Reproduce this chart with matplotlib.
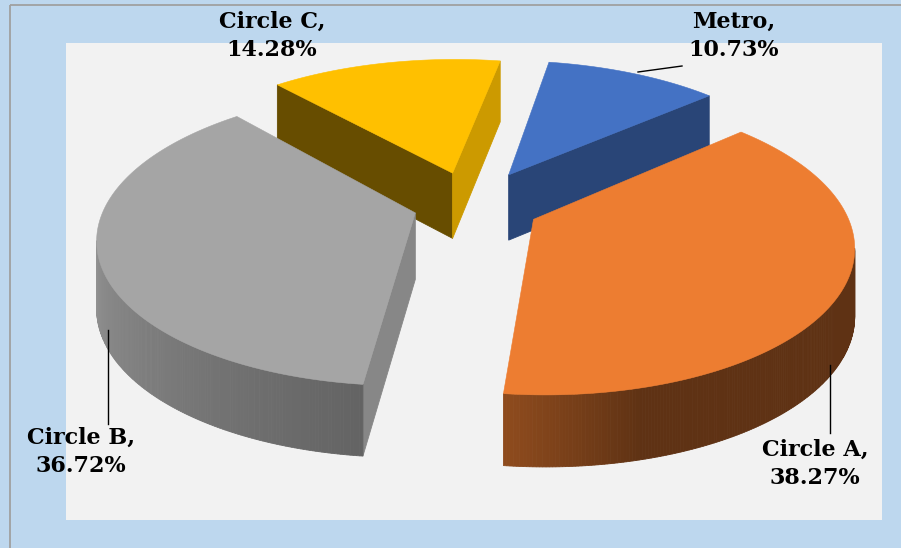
import numpy as np
import matplotlib.pyplot as plt
from matplotlib.patches import Polygon, Rectangle
from matplotlib.colors import to_rgb

# share of customers by circle
labels = ["Metro", "Circle A", "Circle B", "Circle C"]
shares = [10.73, 38.27, 36.72, 14.28]

colors = ["#4472C4", "#ED7D31", "#A5A5A5", "#FFC000"]
explode = [0.25, 0.22, 0.19, 0.24]

# where each label block sits and the leader line that points to its slice
label_xy = [(734, 36), (815, 464), (81, 452), (272, 36)]
leaders = [[(638, 72), (682, 66)], [(830, 365), (830, 433)],
           [(108, 330), (108, 424)], None]

# tilted-pie view (pixel units)
CX, CY = 472, 271
SX, SV, SH = 310, 146.5, 66.3
T, TH = 0.16, 0.072
FIRST_ANGLE = 10


def proj(u, v, h):
    x = CX + SX * u / (1 + T * v)
    y = CY - SV * v / (1 + T * v) - SH * h / (1 + TH * v)
    return np.column_stack([np.atleast_1d(x), np.atleast_1d(y)])


def area(p):
    x, y = p[:, 0], p[:, 1]
    return 0.5 * np.sum(x * np.roll(y, -1) - np.roll(x, -1) * y)


def wall_shade(a):
    return np.interp(a % 360, [0, 90, 165, 186, 270, 360],
                     [0.4, 0.4, 0.4, 0.6, 0.92, 0.92])


def face_shade(a):
    return np.interp(a % 360, [0, 90, 140, 230, 360],
                     [0.9, 0.85, 0.6, 0.4, 0.4])


def darker(c, k):
    return tuple(np.clip(np.array(to_rgb(c)) * k, 0, 1))


fig = plt.figure(figsize=(9.01, 5.48), dpi=100, facecolor="#BDD7EE")
ax = fig.add_axes([0, 0, 1, 1])
ax.set_xlim(0, 901)
ax.set_ylim(548, 0)
ax.axis("off")

ax.add_patch(Rectangle((10, 5), 1000, 1000, fill=False, ec="#A0A0A0", lw=1.3))
ax.add_patch(Rectangle((66, 43), 816, 477, fc="#F2F2F2", ec="none"))

fracs = np.array(shares) / sum(shares)
edges = FIRST_ANGLE + 360 * np.concatenate([[0], np.cumsum(fracs)])

slices = []
for i in range(len(shares)):
    t0, t1 = edges[i], edges[i + 1]
    mid = np.radians((t0 + t1) / 2)
    au, av = explode[i] * np.sin(mid), explode[i] * np.cos(mid)
    th = np.radians(np.linspace(t0, t1, int((t1 - t0) * 2) + 2))
    pu, pv = au + np.sin(th), av + np.cos(th)
    top, bot = proj(pu, pv, 1), proj(pu, pv, 0)
    apex_t, apex_b = proj(au, av, 1)[0], proj(au, av, 0)[0]

    faces = []
    faces.append((np.array([apex_t, top[0], bot[0], apex_b]),
                  darker(colors[i], face_shade(t0 - 90))))
    faces.append((np.array([top[-1], apex_t, apex_b, bot[-1]]),
                  darker(colors[i], face_shade(t1 + 90))))
    deg = np.degrees(th)
    for k in range(len(th) - 1):
        q = np.array([top[k], top[k + 1], bot[k + 1], bot[k]])
        faces.append((q, darker(colors[i], wall_shade((deg[k] + deg[k + 1]) / 2))))
    slices.append((av, faces, np.vstack([apex_t, top]), colors[i]))

# back slices first
for av, faces, top_poly, col in sorted(slices, key=lambda s: -s[0]):
    for pts, c in faces:
        if area(pts) < 0:
            ax.add_patch(Polygon(pts, closed=True, fc=c, ec=c, lw=0.6))
    ax.add_patch(Polygon(top_poly, closed=True, fc=col, ec=col, lw=0.4))

for name, val, (x, y), ld in zip(labels, shares, label_xy, leaders):
    ax.text(x, y, f"{name},\n{val:.2f}%", ha="center", va="center",
            fontsize=16, fontweight="bold", family="DejaVu Serif",
            linespacing=1.32, color="black")
    if ld:
        ax.plot([p[0] for p in ld], [p[1] for p in ld], color="black", lw=1)

fig.savefig("out.png", dpi=100, facecolor=fig.get_facecolor())
